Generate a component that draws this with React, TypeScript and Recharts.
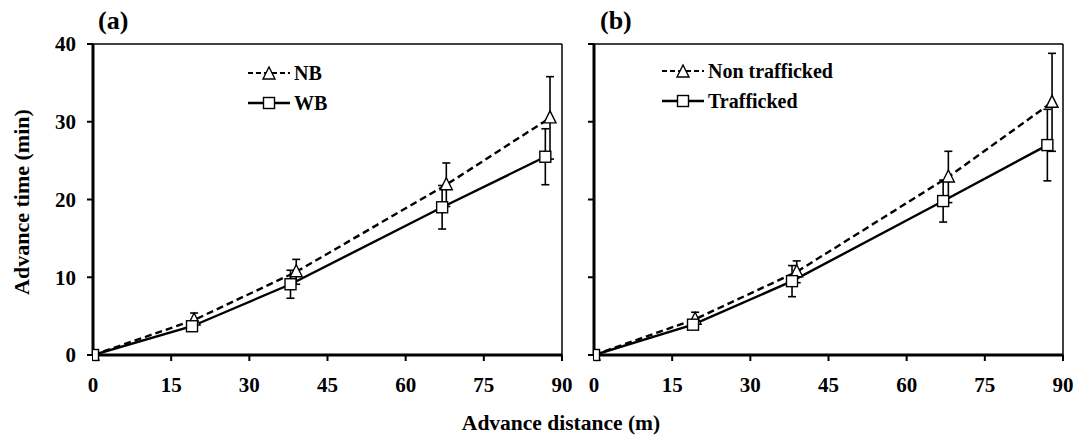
import React from 'react';
import {
  ComposedChart,
  Line,
  XAxis,
  YAxis,
  ErrorBar,
  ReferenceLine,
} from 'recharts';

// panel (a)
const aNbX = [0, 19.4, 39.0, 67.8, 87.7];
const aNbY = [0, 4.5, 10.7, 21.9, 30.5];
const aNbErr = [0, 0.9, 1.6, 2.8, 5.3];
const aWbX = [0, 19.0, 37.9, 67.0, 86.8];
const aWbY = [0, 3.7, 9.1, 19.0, 25.5];
const aWbErr = [0, 0.5, 1.8, 2.8, 3.6];

// panel (b)
const bNtX = [0, 19.4, 38.9, 68.0, 87.9];
const bNtY = [0, 4.6, 10.7, 22.9, 32.5];
const bNtErr = [0, 0.9, 1.4, 3.3, 6.3];
const bTX = [0, 19.0, 38.0, 67.0, 87.0];
const bTY = [0, 3.9, 9.5, 19.8, 27.0];
const bTErr = [0, 0.5, 2.0, 2.7, 4.6];

const xTicks = [0, 15, 30, 45, 60, 75, 90];
const yTicks = [0, 10, 20, 30, 40];

const FONT = '"Liberation Serif", "Times New Roman", serif';

const rows = (xs: number[], ys: number[], es: number[]) =>
  xs.map((x, i) => ({ x, y: ys[i], e: es[i] }));

const Triangle = ({ cx, cy }: { cx: number; cy: number }) => (
  <path
    d={`M${cx},${cy - 7} L${cx + 6},${cy + 5} L${cx - 6},${cy + 5} Z`}
    fill="#fff"
    stroke="#000"
    strokeWidth={1.4}
  />
);

const Square = ({ cx, cy }: { cx: number; cy: number }) => (
  <rect x={cx - 5.5} y={cy - 5.5} width={11} height={11} fill="#fff" stroke="#000" strokeWidth={1.4} />
);

const triDot = (p: any) => <Triangle key={`t${p.index}`} cx={p.cx} cy={p.cy} />;
const sqDot = (p: any) => <Square key={`s${p.index}`} cx={p.cx} cy={p.cy} />;

const LegendBox = ({ dashedLabel, solidLabel }: { dashedLabel: string; solidLabel: string }) => (
  <div style={{ fontFamily: FONT, fontWeight: 'bold', fontSize: 20, color: '#000' }}>
    <div style={{ display: 'flex', alignItems: 'center', height: 30 }}>
      <svg width={44} height={20}>
        <line x1={0} y1={10} x2={42} y2={10} stroke="#000" strokeWidth={2.2} strokeDasharray="5 3" />
        <Triangle cx={21} cy={11} />
      </svg>
      <span style={{ marginLeft: 2 }}>{dashedLabel}</span>
    </div>
    <div style={{ display: 'flex', alignItems: 'center', height: 30 }}>
      <svg width={44} height={20}>
        <line x1={0} y1={10} x2={42} y2={10} stroke="#000" strokeWidth={2.4} />
        <Square cx={21} cy={10} />
      </svg>
      <span style={{ marginLeft: 2 }}>{solidLabel}</span>
    </div>
  </div>
);

interface PanelProps {
  left: number;
  width: number;
  axisWidth: number;
  showYLabels: boolean;
  tag: string;
  tagX: number;
  legendLeft: number;
  legendTop: number;
  dashed: { x: number; y: number; e: number }[];
  solid: { x: number; y: number; e: number }[];
  dashedLabel: string;
  solidLabel: string;
}

const tickFont = { fill: '#000', fontFamily: FONT, fontWeight: 'bold', fontSize: 21 };

const Panel = (p: PanelProps) => (
  <div style={{ position: 'absolute', left: p.left, top: 0 }}>
    <ComposedChart
      width={p.width}
      height={442}
      margin={{ top: 44, right: p.width - p.axisWidth - 469, bottom: 47, left: 0 }}
    >
      <XAxis
        dataKey="x"
        type="number"
        domain={[0, 90]}
        ticks={xTicks}
        allowDataOverflow
        height={40}
        axisLine={{ stroke: '#000', strokeWidth: 3 }}
        tickLine={{ stroke: '#000', strokeWidth: 2 }}
        tickSize={6}
        tickMargin={16}
        tick={tickFont}
      />
      <YAxis
        type="number"
        domain={[0, 40]}
        ticks={yTicks}
        width={p.axisWidth}
        axisLine={{ stroke: '#000', strokeWidth: 3 }}
        tickLine={{ stroke: '#000', strokeWidth: 2 }}
        tickSize={6}
        tickMargin={11}
        tick={p.showYLabels ? tickFont : () => <g />}
        label={
          p.showYLabels
            ? {
                content: () => (
                  <text
                    transform="translate(21,202) rotate(-90)"
                    textAnchor="middle"
                    dominantBaseline="central"
                    fontFamily={FONT}
                    fontWeight="bold"
                    fontSize={22}
                    fill="#000"
                  >
                    Advance time (min)
                  </text>
                ),
              }
            : undefined
        }
      />
      <ReferenceLine y={40} stroke="#000" strokeWidth={1.5} />
      <ReferenceLine x={90} stroke="#000" strokeWidth={1.5} />
      <Line
        data={p.dashed}
        dataKey="y"
        stroke="#000"
        strokeWidth={2.4}
        strokeDasharray="7 4"
        dot={triDot}
        activeDot={false}
        isAnimationActive={false}
      >
        <ErrorBar dataKey="e" direction="y" width={4} stroke="#000" strokeWidth={1.6} />
      </Line>
      <Line
        data={p.solid}
        dataKey="y"
        stroke="#000"
        strokeWidth={2.4}
        dot={sqDot}
        activeDot={false}
        isAnimationActive={false}
      >
        <ErrorBar dataKey="e" direction="y" width={4} stroke="#000" strokeWidth={1.6} />
      </Line>
    </ComposedChart>
    <div style={{ position: 'absolute', left: p.legendLeft, top: p.legendTop }}>
      <LegendBox dashedLabel={p.dashedLabel} solidLabel={p.solidLabel} />
    </div>
    <div
      style={{
        position: 'absolute',
        left: p.tagX,
        top: 6,
        fontFamily: FONT,
        fontWeight: 'bold',
        fontSize: 26,
        color: '#000',
      }}
    >
      {p.tag}
    </div>
  </div>
);

export default function App() {
  return (
    <div
      style={{
        position: 'absolute',
        left: 0,
        top: 0,
        width: 1087,
        height: 442,
        background: '#fff',
        overflow: 'hidden',
      }}
    >
      <Panel
        left={0}
        width={580}
        axisWidth={93}
        showYLabels
        tag="(a)"
        tagX={98}
        legendLeft={248}
        legendTop={58}
        dashed={rows(aNbX, aNbY, aNbErr)}
        solid={rows(aWbX, aWbY, aWbErr)}
        dashedLabel="NB"
        solidLabel="WB"
      />
      <Panel
        left={560}
        width={527}
        axisWidth={34}
        showYLabels={false}
        tag="(b)"
        tagX={40}
        legendLeft={102}
        legendTop={56}
        dashed={rows(bNtX, bNtY, bNtErr)}
        solid={rows(bTX, bTY, bTErr)}
        dashedLabel="Non trafficked"
        solidLabel="Trafficked"
      />
      <div
        style={{
          position: 'absolute',
          left: 0,
          width: 1122,
          top: 411,
          textAlign: 'center',
          fontFamily: FONT,
          fontWeight: 'bold',
          fontSize: 21.5,
          color: '#000',
        }}
      >
        Advance distance (m)
      </div>
    </div>
  );
}
